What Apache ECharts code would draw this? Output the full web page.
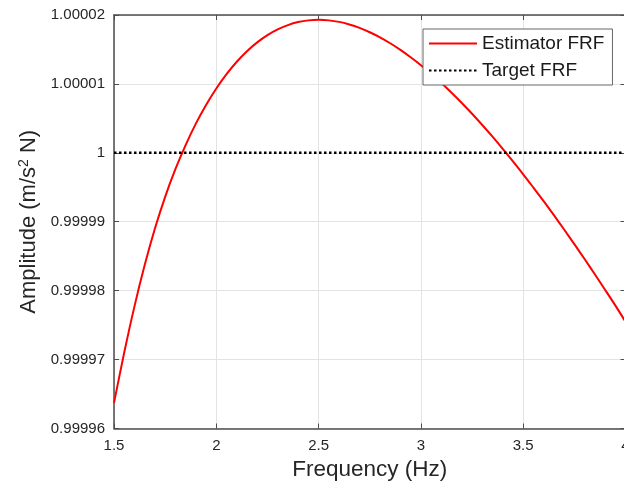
<!DOCTYPE html>
<html><head><meta charset="utf-8">
<script src="https://cdn.jsdelivr.net/npm/echarts@6/dist/echarts.min.js"></script>
<style>html,body{margin:0;padding:0;background:#fff;overflow:hidden}#c{width:624px;height:491px}</style>
</head><body><div id="c"></div>
<script>
const frequency = [1.50,1.55,1.60,1.65,1.70,1.75,1.80,1.85,1.90,1.95,2.00,2.05,2.10,2.15,2.20,2.25,2.30,2.35,2.40,2.45,2.50,2.55,2.60,2.65,2.70,2.75,2.80,2.85,2.90,2.95,3.00,3.05,3.10,3.15,3.20,3.25,3.30,3.35,3.40,3.45,3.50,3.55,3.60,3.65,3.70,3.75,3.80,3.85,3.90,3.95,4.00];
const estimatorFRF = [0.99996372,0.99997102,0.99997772,0.99998372,0.99998902,0.99999362,0.99999762,1.00000112,1.00000424,1.00000695,1.00000934,1.00001142,1.00001322,1.00001475,1.00001603,1.00001708,1.00001791,1.00001853,1.00001897,1.00001922,1.00001930,1.00001922,1.00001900,1.00001863,1.00001813,1.00001750,1.00001676,1.00001590,1.00001494,1.00001387,1.00001272,1.00001147,1.00001014,1.00000872,1.00000723,1.00000567,1.00000404,1.00000234,1.00000058,0.99999876,0.99999689,0.99999495,0.99999299,0.99999095,0.99998887,0.99998675,0.99998459,0.99998238,0.99998014,0.99997787,0.99997550];
const targetFreq = [1.5, 4.0];
const targetFRF = [1, 1];
const seriesNames = ['Estimator FRF', 'Target FRF'];

const FONT = "'Liberation Sans', Arial, Helvetica, sans-serif";
const AX = '#4d4d4d';
const chart = echarts.init(document.getElementById('c'), null, {renderer:'canvas'});
const yFmt = v => String(parseFloat(v.toFixed(5)));
const baseX = {
  type:'value', min:1.5, max:4, interval:0.5,
  axisLine:{show:true, onZero:false, lineStyle:{color:AX, width:1.5}},
  axisTick:{show:true, inside:true, length:5, lineStyle:{color:AX}},
  splitLine:{show:false}
};
const baseY = {
  type:'value', min:0.99996, max:1.00002, interval:0.00001,
  axisLine:{show:true, onZero:false, lineStyle:{color:AX, width:1.5}},
  axisTick:{show:true, inside:true, length:5, lineStyle:{color:AX}},
  splitLine:{show:false}
};
chart.setOption({
  animation:false,
  backgroundColor:'#fff',
  textStyle:{fontFamily:FONT},
  grid:{left:114, top:15, width:511.5, height:413.5, containLabel:false, outerBoundsMode:'none'},
  legend:{
    orient:'vertical', left:423, top:29,
    data:seriesNames,
    itemWidth:48, itemHeight:19, itemGap:8,
    padding:[5,8,5,5],
    backgroundColor:'#fff', borderColor:'#666', borderWidth:1,
    itemStyle:{opacity:0},
    textStyle:{fontFamily:FONT, fontSize:19, color:'#1a1a1a'}
  },
  xAxis:[
    Object.assign({}, baseX, {
      position:'bottom',
      name:'Frequency (Hz)', nameLocation:'middle', nameGap:30,
      nameTextStyle:{fontFamily:FONT, fontSize:22.5, color:'#262626'},
      axisLabel:{fontFamily:FONT, fontSize:15, color:'#262626', margin:10},
      splitLine:{show:true, lineStyle:{color:'#e3e3e3', width:1}}
    }),
    Object.assign({}, baseX, {position:'top', axisLabel:{show:false}})
  ],
  yAxis:[
    Object.assign({}, baseY, {
      position:'left',
      name:'Amplitude (m/s{sup|2} N)', nameLocation:'middle', nameGap:67,
      nameTextStyle:{fontFamily:FONT, fontSize:22, color:'#262626',
        rich:{sup:{fontFamily:FONT, fontSize:14, color:'#262626', verticalAlign:'bottom', padding:[0,0,10,0]}}},
      axisLabel:{fontFamily:FONT, fontSize:15, color:'#262626', margin:9, formatter:yFmt},
      splitLine:{show:true, lineStyle:{color:'#e3e3e3', width:1}}
    }),
    Object.assign({}, baseY, {position:'right', axisLabel:{show:false}})
  ],
  series:[
    {
      name:seriesNames[0], type:'line', xAxisIndex:0, yAxisIndex:0,
      data:frequency.map((f,i)=>[f, estimatorFRF[i]]),
      smooth:0.3, showSymbol:false, symbol:'none',
      lineStyle:{color:'#ff0000', width:2}, itemStyle:{color:'#ff0000'}
    },
    {
      name:seriesNames[1], type:'line', xAxisIndex:0, yAxisIndex:0,
      data:targetFreq.map((f,i)=>[f, targetFRF[i]]),
      showSymbol:false, symbol:'none',
      lineStyle:{color:'#000', width:2.5, type:[2.5,2.5]}, itemStyle:{color:'#000'}
    }
  ]
});
</script></body></html>
